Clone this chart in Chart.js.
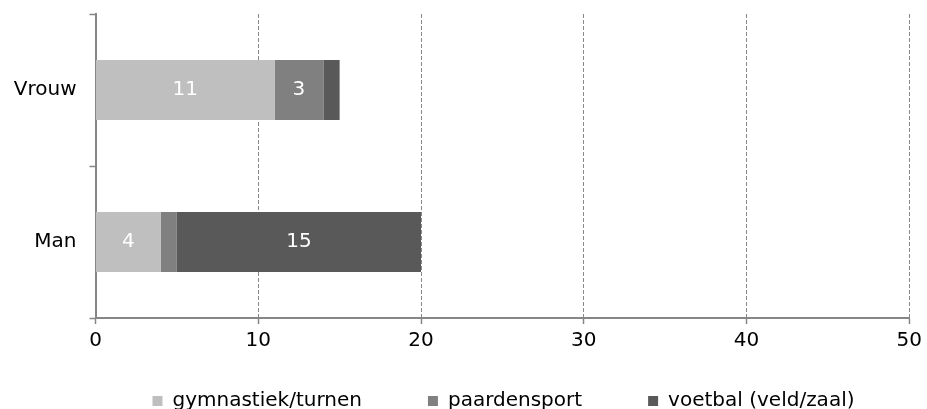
<!DOCTYPE html>
<html>
<head>
<meta charset="utf-8">
<script src="https://cdn.jsdelivr.net/npm/chart.js@4/dist/chart.umd.min.js"></script>
<style>
html,body{margin:0;padding:0;background:#fff;}
#wrap{width:927px;height:409px;position:relative;overflow:hidden;}
</style>
</head>
<body>
<div id="wrap"><canvas id="c" width="927" height="409"></canvas></div>
<script>
const categories = ["Vrouw", "Man"];
const seriesNames = ["gymnastiek/turnen", "paardensport", "voetbal (veld/zaal)"];
const gymnastiek = [11, 4];
const paardensport = [3, 1];
const voetbal = [1, 15];
const xTicks = [0, 10, 20, 30, 40, 50];

const colors = ["#BFBFBF", "#808080", "#595959"];
const FONT = "'DejaVu Sans', Verdana, sans-serif";

const labelPlugin = {
  id: 'barLabels',
  afterDatasetsDraw(chart) {
    const ctx = chart.ctx;
    ctx.save();
    ctx.fillStyle = '#fff';
    ctx.font = "20px " + FONT;
    ctx.textAlign = 'center';
    ctx.textBaseline = 'middle';
    chart.data.datasets.forEach((ds, i) => {
      const meta = chart.getDatasetMeta(i);
      meta.data.forEach((bar, j) => {
        const v = ds.data[j];
        if (v <= 1) return;
        const p = bar.getProps(['x', 'base', 'y'], true);
        ctx.fillText(String(v), (p.x + p.base) / 2, p.y);
      });
    });
    ctx.restore();
  }
};

// place legend row near the bottom edge, centred under the plot
const legendPlace = {
  id: 'legendPlace',
  afterLayout(chart) {
    const lg = chart.legend;
    if (!lg) return;
    const h = lg.height;
    lg.top = 325;
    lg.bottom = lg.top + h;
    lg.left += 48;
    lg.right += 48;
  }
};

new Chart(document.getElementById('c'), {
  type: 'bar',
  data: {
    labels: categories,
    datasets: [
      { label: seriesNames[0], data: gymnastiek, backgroundColor: colors[0] },
      { label: seriesNames[1], data: paardensport, backgroundColor: colors[1] },
      { label: seriesNames[2], data: voetbal, backgroundColor: colors[2] }
    ]
  },
  options: {
    indexAxis: 'y',
    responsive: false,
    animation: false,
    devicePixelRatio: 1,
    categoryPercentage: 1,
    barPercentage: 0.395,
    layout: { padding: { top: 14, right: 16, left: 0, bottom: -47 } },
    plugins: {
      legend: {
        position: 'bottom',
        labels: {
          font: { family: FONT, size: 20 },
          color: '#000',
          boxWidth: 10,
          boxHeight: 10,
          padding: 66
        }
      },
      tooltip: { enabled: false }
    },
    scales: {
      x: {
        stacked: true,
        min: 0,
        max: 50,
        afterBuildTicks(scale) { scale.ticks = xTicks.map(v => ({ value: v })); },
        afterFit(scale) { scale.height = 42; },
        ticks: {
          font: { family: FONT, size: 20 },
          color: '#000',
          padding: 5
        },
        grid: {
          color: (c) => (c.tick && c.tick.value === 0) ? 'rgba(0,0,0,0)' : '#8a8a8a',
          lineWidth: 1,
          tickColor: '#868686',
          tickLength: 6,
          tickWidth: 1.5,
          tickBorderDash: []
        },
        border: { display: true, color: '#868686', width: 2, dash: [4, 2] }
      },
      y: {
        stacked: true,
        afterFit(scale) {
          scale.width = 95.5;
          scale.paddingTop = 0;
          scale.paddingBottom = 0;
        },
        ticks: {
          font: { family: FONT, size: 20 },
          color: '#000',
          padding: 13
        },
        grid: {
          drawOnChartArea: false,
          tickColor: '#868686',
          tickLength: 6,
          tickWidth: 1.5
        },
        border: { display: true, color: '#868686', width: 2 }
      }
    }
  },
  plugins: [labelPlugin, legendPlace]
});
</script>
</body>
</html>
